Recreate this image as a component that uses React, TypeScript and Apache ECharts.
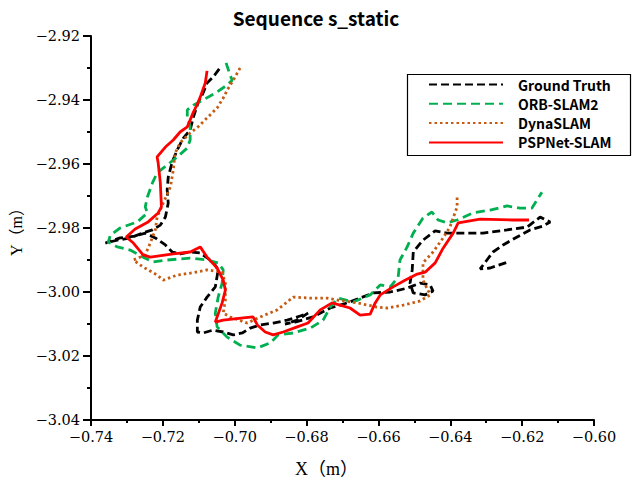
import React, { useEffect, useRef } from "react";
import * as echarts from "echarts";

const seriesNames = ["Ground Truth", "ORB-SLAM2", "DynaSLAM", "PSPNet-SLAM"];

const xTicks = { min: -0.74, max: -0.6, step: 0.02 };
const yTicks = { min: -3.04, max: -2.92, step: 0.02 };

const gtX = [-0.7043, -0.706, -0.7077, -0.7088, -0.7102, -0.7115, -0.7124, -0.7143, -0.716, -0.7174, -0.7185, -0.7188, -0.7185, -0.7193, -0.7207, -0.7229, -0.7257, -0.7291, -0.7327, -0.736, -0.7319, -0.7277, -0.7249, -0.7221, -0.7193, -0.7174, -0.7152, -0.7124, -0.7096, -0.706, -0.7046, -0.7054, -0.7077, -0.7096, -0.7104, -0.7104, -0.7088, -0.706, -0.7032, -0.7004, -0.6979, -0.6957, -0.6929, -0.6893, -0.6854, -0.6818, -0.6796, -0.6826, -0.686, -0.6832, -0.6782, -0.6734, -0.6687, -0.6651, -0.6615, -0.6567, -0.652, -0.6484, -0.6456, -0.6448, -0.647, -0.6503, -0.6512, -0.6506, -0.6503, -0.6476, -0.6442, -0.6409, -0.6353, -0.6309, -0.6242, -0.6186, -0.615, -0.6122, -0.6142, -0.6178, -0.6214, -0.6253, -0.6281, -0.6298, -0.6317, -0.6289, -0.6239];
const gtY = [-2.9303, -2.9328, -2.9347, -2.9378, -2.9409, -2.9453, -2.9494, -2.9519, -2.9556, -2.9594, -2.9641, -2.9681, -2.9722, -2.9766, -2.9791, -2.9806, -2.9816, -2.9831, -2.9838, -2.9847, -2.9831, -2.9825, -2.9816, -2.9831, -2.9853, -2.9875, -2.9881, -2.9875, -2.9878, -2.9906, -2.9931, -2.9984, -3.0016, -3.0047, -3.0088, -3.0125, -3.0128, -3.0119, -3.0125, -3.0134, -3.0128, -3.0113, -3.0103, -3.0097, -3.0088, -3.0075, -3.0066, -3.0088, -3.01, -3.0094, -3.0078, -3.005, -3.0034, -3.0019, -3.0003, -3.0, -2.9988, -2.9972, -2.9978, -2.9997, -3.0009, -3.0003, -2.9972, -2.9931, -2.9875, -2.9838, -2.9809, -2.9816, -2.9816, -2.9816, -2.9806, -2.9797, -2.9766, -2.9781, -2.9794, -2.9806, -2.9828, -2.9853, -2.9875, -2.99, -2.9928, -2.9925, -2.9906];

const orbX = [-0.7024, -0.7013, -0.7007, -0.7021, -0.7049, -0.7088, -0.7115, -0.7132, -0.7132, -0.7124, -0.7124, -0.7132, -0.716, -0.7188, -0.7216, -0.7229, -0.7243, -0.7249, -0.7243, -0.7271, -0.7319, -0.7346, -0.7352, -0.7327, -0.7291, -0.7255, -0.7227, -0.7188, -0.7124, -0.7077, -0.7046, -0.7032, -0.7035, -0.7046, -0.7054, -0.7049, -0.7021, -0.6985, -0.6937, -0.6901, -0.6879, -0.6837, -0.679, -0.6754, -0.6734, -0.6712, -0.667, -0.6623, -0.6595, -0.6567, -0.6545, -0.654, -0.652, -0.6503, -0.6476, -0.6451, -0.6434, -0.6409, -0.6381, -0.6337, -0.6289, -0.6242, -0.6206, -0.6173, -0.6159, -0.6145];
const orbY = [-2.9284, -2.9322, -2.9338, -2.9353, -2.9375, -2.94, -2.9416, -2.9431, -2.9453, -2.9484, -2.9525, -2.955, -2.9578, -2.9603, -2.9628, -2.9659, -2.9703, -2.9734, -2.9753, -2.9781, -2.98, -2.9822, -2.9844, -2.9859, -2.9869, -2.9891, -2.9906, -2.99, -2.9894, -2.99, -2.9909, -2.9931, -2.9972, -3.0016, -3.0066, -3.0109, -3.0141, -3.0166, -3.0175, -3.0159, -3.0134, -3.0128, -3.0113, -3.0088, -3.0047, -3.0019, -3.0031, -3.0009, -2.9978, -2.9984, -2.9953, -2.99, -2.9859, -2.9816, -2.9769, -2.975, -2.9775, -2.9784, -2.9775, -2.9753, -2.9744, -2.9731, -2.9738, -2.9738, -2.9713, -2.9688];

const dynaX = [-0.6985, -0.7004, -0.7021, -0.7032, -0.7049, -0.7077, -0.7102, -0.7124, -0.7152, -0.7166, -0.7171, -0.7179, -0.7199, -0.7216, -0.7221, -0.7235, -0.7249, -0.7282, -0.7255, -0.7216, -0.7199, -0.716, -0.7124, -0.7077, -0.7035, -0.7026, -0.7026, -0.7032, -0.7013, -0.6965, -0.6929, -0.6882, -0.6837, -0.679, -0.6743, -0.6715, -0.6659, -0.6604, -0.6576, -0.6531, -0.6484, -0.6456, -0.6476, -0.6476, -0.6448, -0.642, -0.6401, -0.6381, -0.6381];
const dynaY = [-2.93, -2.9338, -2.9369, -2.9394, -2.9425, -2.9456, -2.9484, -2.9503, -2.9534, -2.9566, -2.9619, -2.9672, -2.9722, -2.9766, -2.9806, -2.9847, -2.9884, -2.99, -2.9922, -2.9947, -2.9963, -2.9947, -2.9941, -2.9931, -2.9938, -2.9972, -3.0025, -3.0066, -3.0078, -3.0097, -3.0078, -3.0056, -3.0016, -3.0019, -3.0019, -3.0025, -3.0034, -3.0047, -3.005, -3.0041, -3.0028, -3.0009, -2.9963, -2.9909, -2.9875, -2.9831, -2.9797, -2.9734, -2.9697];

const pspX = [-0.7077, -0.7082, -0.7096, -0.7104, -0.7115, -0.7132, -0.7152, -0.7171, -0.7193, -0.7216, -0.7213, -0.7207, -0.7204, -0.7213, -0.7241, -0.7277, -0.7302, -0.7282, -0.7255, -0.7235, -0.7171, -0.7124, -0.7096, -0.7077, -0.7049, -0.7032, -0.7026, -0.7035, -0.7054, -0.7032, -0.6976, -0.6949, -0.6937, -0.6915, -0.6893, -0.6865, -0.6826, -0.6796, -0.6762, -0.6729, -0.6707, -0.6679, -0.6651, -0.6623, -0.6609, -0.6595, -0.6559, -0.6526, -0.6492, -0.647, -0.6442, -0.642, -0.6392, -0.6378, -0.6317, -0.6225, -0.6181];
const pspY = [-2.9309, -2.9347, -2.9391, -2.9413, -2.9438, -2.9484, -2.95, -2.9525, -2.9547, -2.9578, -2.9597, -2.9659, -2.9734, -2.9753, -2.9781, -2.9803, -2.9828, -2.9847, -2.9884, -2.9891, -2.9881, -2.9875, -2.9859, -2.9891, -2.9925, -2.9963, -2.9994, -3.0034, -3.0094, -3.0088, -3.0081, -3.0078, -3.0103, -3.0125, -3.0134, -3.0125, -3.0109, -3.0097, -3.0056, -3.0034, -3.0041, -3.005, -3.0072, -3.0069, -3.0034, -3.0009, -2.9984, -2.9963, -2.9944, -2.9938, -2.9909, -2.9863, -2.9816, -2.9784, -2.9772, -2.9775, -2.9775];

const zip = (xs: number[], ys: number[]) => xs.map((x, i) => [x, ys[i]]);

const fmt = (v: number) => v.toFixed(2).replace("-", "\u2212");

export default function App() {
  const ref = useRef<HTMLDivElement>(null);
  useEffect(() => {
    if (!ref.current) return;
    const chart = echarts.init(ref.current, null, { renderer: "svg" });
    const serifFont = "'DejaVu Serif', 'Liberation Serif', serif";
    const nameFont = "'Liberation Serif', 'Noto Sans CJK SC', serif";
    const sansFont = "'Noto Sans CJK SC', 'Noto Sans', sans-serif";
    const axisCommon = {
      type: "value" as const,
      axisLine: { show: true, onZero: false, lineStyle: { color: "#000", width: 2 } },
      splitLine: { show: false },
      axisLabel: { color: "#000", fontFamily: serifFont, fontSize: 14.5 },
      nameLocation: "middle" as const,
    };
    chart.setOption({
      animation: false,
      backgroundColor: "#fff",
      title: {
        text: "Sequence s_static",
        left: "center",
        top: 3,
        textStyle: { fontFamily: sansFont, fontSize: 19, fontWeight: "bold", color: "#000" },
      },
      grid: { left: 91, right: 38, top: 36, bottom: 62 },
      legend: {
        orient: "vertical",
        left: 423,
        top: 72,
        itemWidth: 74,
        itemHeight: 14,
        itemGap: 4.3,
        data: seriesNames,
        itemStyle: { color: "transparent", borderWidth: 0 },
        textStyle: {
          fontFamily: sansFont,
          fontSize: 14,
          lineHeight: 15,
          fontWeight: "bold",
          color: "#000",
          padding: [0, 0, 0, 10],
        },
      },
      graphic: [
        {
          type: "rect",
          left: 405,
          top: 72,
          shape: { width: 223, height: 81 },
          style: { fill: "none", stroke: "#000", lineWidth: 1.2 },
          z: 10,
        },
      ],
      xAxis: {
        ...axisCommon,
        min: xTicks.min,
        max: xTicks.max,
        interval: xTicks.step,
        name: "X（m）",
        nameGap: 40,
        nameTextStyle: { color: "#000", fontFamily: nameFont, fontSize: 18, padding: [0, 32, 0, 0] },
        axisTick: { show: true, length: 6, lineStyle: { color: "#000", width: 2 } },
        minorTick: { show: true, splitNumber: 2, length: 3, lineStyle: { color: "#000", width: 2 } },
        axisLabel: { ...axisCommon.axisLabel, margin: 9, formatter: fmt },
      },
      yAxis: {
        ...axisCommon,
        min: yTicks.min,
        max: yTicks.max,
        interval: yTicks.step,
        name: "Y（m）",
        nameGap: 66,
        nameTextStyle: { color: "#000", fontFamily: nameFont, fontSize: 16 },
        axisTick: { show: true, length: 8, lineStyle: { color: "#000", width: 2 } },
        minorTick: { show: true, splitNumber: 2, length: 4, lineStyle: { color: "#000", width: 2 } },
        axisLabel: { ...axisCommon.axisLabel, margin: 11, formatter: fmt },
      },
      series: [
        {
          name: seriesNames[0],
          type: "line",
          data: zip(gtX, gtY),
          symbol: "none",
          lineStyle: { color: "#000000", width: 2.8, type: [8, 4] },
          itemStyle: { color: "#000000" },
        },
        {
          name: seriesNames[1],
          type: "line",
          data: zip(orbX, orbY),
          symbol: "none",
          lineStyle: { color: "#00B050", width: 2.8, type: [9, 5] },
          itemStyle: { color: "#00B050" },
        },
        {
          name: seriesNames[2],
          type: "line",
          data: zip(dynaX, dynaY),
          symbol: "none",
          lineStyle: { color: "#C55A11", width: 2.8, type: [2.5, 3] },
          itemStyle: { color: "#C55A11" },
        },
        {
          name: seriesNames[3],
          type: "line",
          data: zip(pspX, pspY),
          symbol: "none",
          lineStyle: { color: "#FF0000", width: 2.8, type: "solid" },
          itemStyle: { color: "#FF0000" },
        },
      ],
    });
    return () => chart.dispose();
  }, []);
  return (
    <div
      ref={ref}
      style={{ position: "absolute", left: 0, top: 0, width: 632, height: 483, background: "#fff" }}
    />
  );
}
